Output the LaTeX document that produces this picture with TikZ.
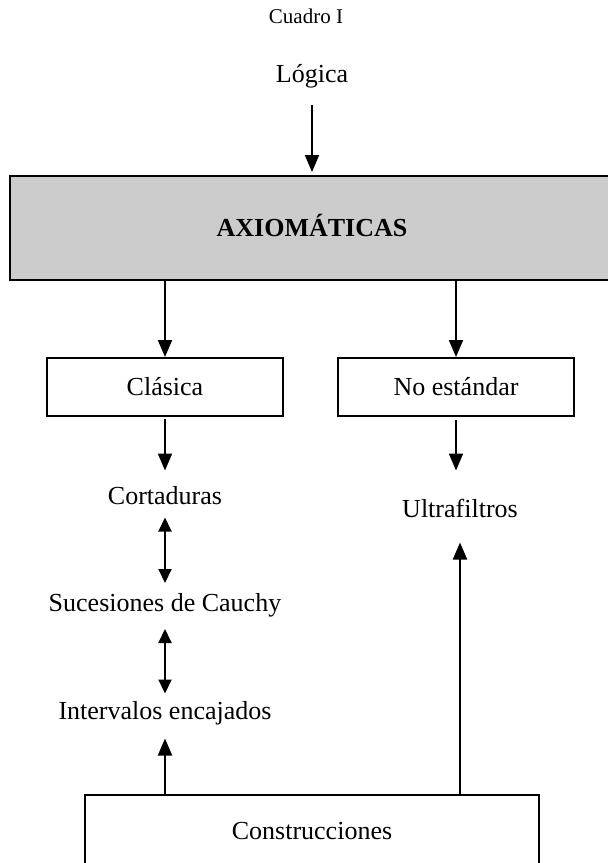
\documentclass[tikz,border=0pt]{standalone}
\usepackage{fontspec}
\setmainfont{Liberation Serif}
\usepackage{tikz}
\usetikzlibrary{positioning, arrows.meta}
\definecolor{axgray}{RGB}{204,204,204}

\begin{document}
\begin{tikzpicture}[x=1pt, y=1pt, on grid,
    lbl/.style={font=\fontsize{26}{30}\selectfont, text height=17pt, text depth=0pt, inner sep=0pt, outer sep=0pt},
    cajita/.style={lbl, draw, line width=2.4pt, minimum width=236pt, minimum height=58pt},
    flecha/.style={line width=2pt, -{Triangle[length=17pt 0, width=14pt 0]}},
    dflecha/.style={line width=2pt, {Triangle[length=14pt 0, width=13pt 0]}-{Triangle[length=14pt 0, width=13pt 0]}}]
  \path [use as bounding box, clip] (0,0) rectangle (608,-863);
  \node [lbl] (logica) at (312,-74) {Lógica};
  \node [above = 57.5pt of logica, xshift=-6pt, lbl, font=\fontsize{21}{25}\selectfont, text height=13.5pt] (cuadro) {Cuadro I};
  \node [below = 154pt of logica, cajita, fill=axgray, minimum width=604pt, minimum height=104pt, font=\fontsize{26}{30}\selectfont\bfseries] (axiom) {AXIOMÁTICAS};
  \node [below left = 159pt and 147pt of axiom, cajita] (clasica) {Clásica};
  \node [right = 291pt of clasica, cajita] (noest) {No estándar};
  \node [below = 109pt of clasica, lbl] (cort) {Cortaduras};
  \node [below right = 122pt and 4pt of noest, lbl] (ultra) {Ultrafiltros};
  \node [below = 106.5pt of cort, lbl] (suc) {Sucesiones de Cauchy};
  \node [below = 108.5pt of suc, lbl] (interv) {Intervalos encajados};
  \node [below right = 119.5pt and 147pt of interv, cajita, minimum width=454pt, minimum height=71pt] (constr) {Construcciones};
  \draw [flecha, shorten <=22pt, shorten >=4pt] (logica) -- (axiom);
  \draw [flecha, shorten >=1pt] (axiom.south -| clasica) -- (clasica);
  \draw [flecha, shorten >=1pt] (axiom.south -| noest) -- (noest);
  \draw [flecha, shorten <=3pt, shorten >=17pt] (clasica) -- (cort);
  \draw [flecha, shorten <=4pt, shorten >=30pt] (noest) -- (noest |- ultra.north);
  \draw [dflecha, shorten <=13pt, shorten >=11pt] (cort) -- (suc);
  \draw [dflecha, shorten <=18pt, shorten >=9pt] (suc) -- (interv);
  \draw [flecha, shorten >=19pt] (constr.north -| interv) -- (interv);
  \draw [flecha, shorten >=25pt] (constr.north -| ultra) -- (ultra);
\end{tikzpicture}
\end{document}
